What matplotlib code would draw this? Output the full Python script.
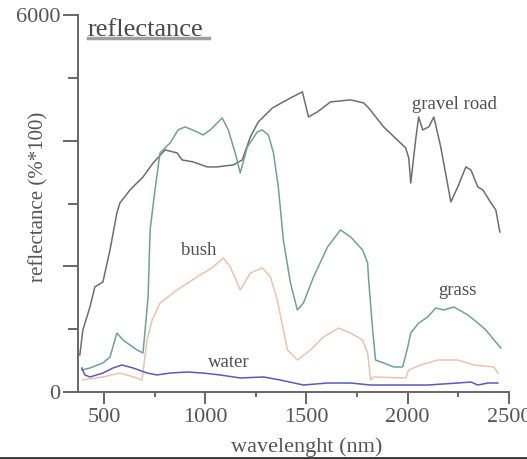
import matplotlib
matplotlib.use("Agg")
import matplotlib.pyplot as plt
from matplotlib.lines import Line2D

plt.rcParams['font.family'] = ['Liberation Serif', 'DejaVu Serif']

# spectra: wavelength (nm), reflectance (%*100)
gravel_wl = [381, 396, 431, 455, 495, 530, 564, 579, 629, 693, 743, 802, 861, 886, 941,
             1010, 1059, 1139, 1183, 1223, 1262, 1332, 1421, 1480, 1510, 1554, 1619,
             1718, 1782, 1807, 1881, 1990, 2005, 2015, 2039, 2054, 2074, 2104, 2129,
             2163, 2213, 2247, 2287, 2312, 2346, 2371, 2411, 2435, 2450, 2455]
gravel_r = [589, 987, 1353, 1672, 1751, 2261, 2850, 3009, 3216, 3423, 3646, 3853, 3805,
            3693, 3662, 3582, 3582, 3614, 3693, 4060, 4298, 4521, 4680, 4776, 4378, 4458,
            4617, 4649, 4601, 4521, 4219, 3884, 3725, 3327, 4012, 4378, 4171, 4219, 4378,
            3900, 3025, 3264, 3582, 3534, 3264, 3216, 3009, 2897, 2627, 2547]

grass_wl = [391, 431, 495, 530, 564, 594, 663, 693, 718, 728, 752, 777, 827, 866, 901,
            960, 990, 1025, 1084, 1114, 1148, 1173, 1208, 1257, 1282, 1312, 1337, 1361,
            1386, 1421, 1455, 1485, 1535, 1604, 1668, 1718, 1777, 1802, 1807, 1827, 1841,
            1881, 1931, 1975, 2000, 2015, 2054, 2099, 2138, 2178, 2228, 2297, 2346, 2386,
            2426, 2460]
grass_r = [350, 382, 462, 557, 939, 828, 669, 621, 1512, 2579, 3216, 3805, 3964, 4171,
           4219, 4139, 4091, 4171, 4362, 4171, 3805, 3486, 3900, 4139, 4171, 4091, 3805,
           3264, 2420, 1735, 1305, 1417, 1831, 2308, 2579, 2468, 2261, 2054, 1783, 987,
           509, 462, 398, 398, 716, 939, 1098, 1194, 1337, 1305, 1353, 1226, 1098, 987,
           828, 700]

bush_wl = [396, 495, 579, 663, 688, 713, 738, 777, 861, 960, 1040, 1089, 1124, 1173,
           1223, 1282, 1322, 1356, 1406, 1455, 1520, 1584, 1658, 1718, 1777, 1802, 1817,
           1832, 1990, 2005, 2064, 2148, 2247, 2327, 2426, 2445]
bush_r = [191, 239, 302, 223, 191, 828, 1146, 1417, 1624, 1831, 1990, 2133, 1990, 1624,
          1894, 1974, 1831, 1465, 669, 509, 669, 876, 1019, 939, 828, 621, 191, 239, 223,
          350, 430, 509, 509, 430, 398, 302]

water_wl = [391, 406, 431, 495, 545, 589, 644, 713, 762, 827, 911, 990, 1074, 1173, 1287,
            1371, 1485, 1604, 1718, 1817, 1931, 2099, 2247, 2312, 2346, 2396, 2445]
water_r = [382, 271, 239, 302, 382, 430, 382, 302, 271, 302, 318, 302, 271, 223, 239,
           191, 111, 143, 143, 111, 111, 111, 143, 159, 111, 143, 143]

x_ticks = [500, 1000, 1500, 2000, 2500]
y_ticks = [0, 2000, 4000, 6000]
y_tick_labels = ['0', '', '', '6000']

fig = plt.figure(figsize=(5.27, 4.59), dpi=100)
ax = fig.add_axes([78 / 527, 1 - 392 / 459, 431 / 527, 377 / 459])

ax.plot(gravel_wl, gravel_r, color='#6e6e6e', lw=1.1)
ax.plot(grass_wl, grass_r, color='#6fa294', lw=1.1)
ax.plot(bush_wl, bush_r, color='#e7c4b0', lw=1.1)
ax.plot(water_wl, water_r, color='#5a5ab8', lw=1.1)

txt = '#505050'
ax.text(2232, 4569, 'gravel road', ha='center', va='center', fontsize=13.5, color=txt)
ax.text(970, 2245, 'bush', ha='center', va='center', fontsize=13.5, color=txt)
ax.text(1119, 462, 'water', ha='center', va='center', fontsize=13.5, color=txt)
ax.text(2247, 1608, 'grass', ha='center', va='center', fontsize=13.5, color=txt)

ax.set_xlim(372, 2500)
ax.set_ylim(0, 6000)
for s in ['top', 'right']:
    ax.spines[s].set_visible(False)
for s in ['left', 'bottom']:
    ax.spines[s].set_color('#666666')
    ax.spines[s].set_linewidth(1.4)

ax.set_xticks(x_ticks)
ax.set_xticks([750, 1250, 1750, 2250], minor=True)
ax.set_yticks(y_ticks, y_tick_labels)
ax.set_yticks([1000, 3000, 5000], minor=True)
ax.tick_params(which='major', axis='x', length=8.6, width=1.4, color='#666666',
               labelsize=16, labelcolor='#555555', pad=3)
ax.tick_params(which='minor', axis='x', length=3.6, width=1.4, color='#666666')
ax.tick_params(which='major', axis='y', length=10.8, width=1.4, color='#666666',
               labelsize=16, labelcolor='#555555', pad=2)
ax.tick_params(which='minor', axis='y', length=7.2, width=1.4, color='#666666')

fig.text(307 / 527, 1 - 447 / 459, 'wavelenght (nm)', ha='center', va='center',
         fontsize=16, color='#555555')
fig.text(39 / 527, 1 - 197 / 459, 'reflectance (%*100)', rotation=90, ha='center',
         va='center', fontsize=15, color='#555555')

# title with its underline bar
fig.text(88 / 527, 1 - 30 / 459, 'reflectance', ha='left', va='center', fontsize=19,
         color='#4a4a4a')
fig.add_artist(Line2D([88 / 527, 209 / 527], [1 - 38 / 459, 1 - 38 / 459],
                      transform=fig.transFigure, color='#a0a0a0', lw=2.5))
fig.add_artist(Line2D([0, 1], [1 / 459, 1 / 459], transform=fig.transFigure,
                      color='#333333', lw=2))

fig.savefig('out.png', dpi=100)
